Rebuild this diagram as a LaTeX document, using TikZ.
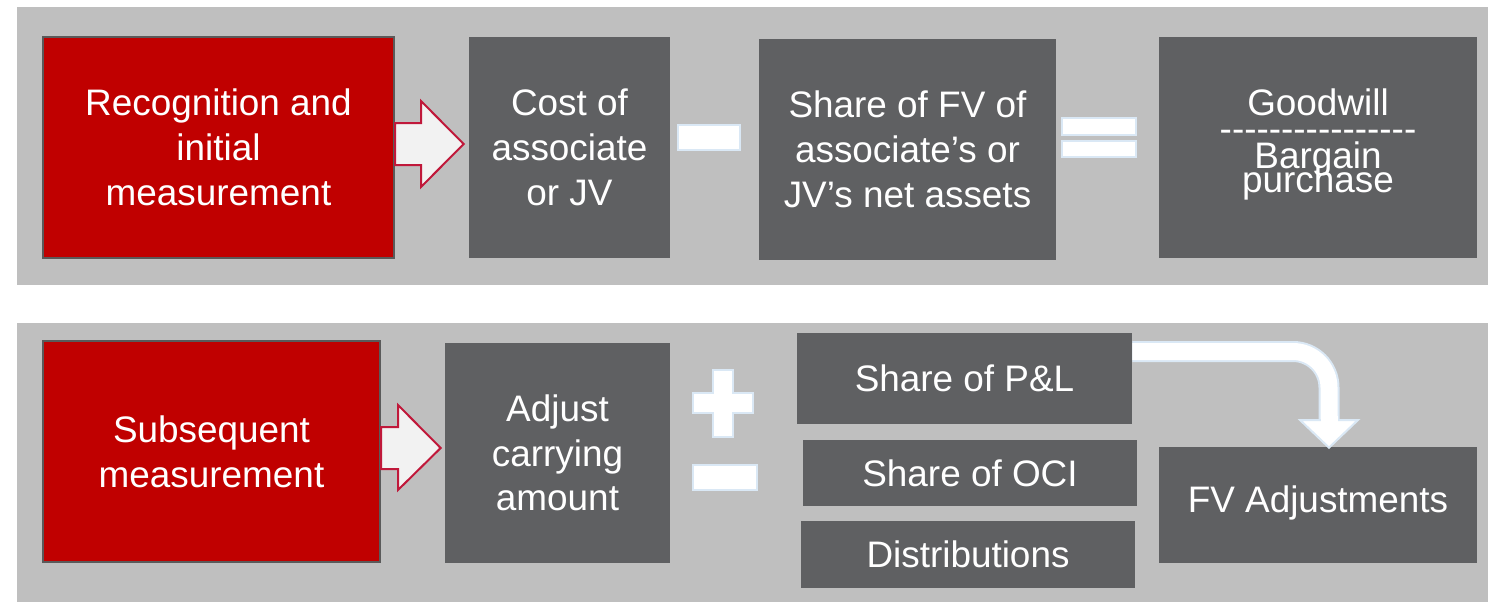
\documentclass[tikz,border=0pt]{standalone}
\usepackage{fontspec}
\setmainfont{Liberation Sans}
\usetikzlibrary{calc}

\definecolor{bandgray}{RGB}{191,191,191}
\definecolor{boxgray}{RGB}{95,96,98}
\definecolor{boxred}{RGB}{192,0,0}
\definecolor{rededge}{RGB}{90,90,90}
\definecolor{arrowfill}{RGB}{242,242,242}
\definecolor{arrowedge}{RGB}{192,24,58}
\definecolor{signedge}{RGB}{218,232,245}

\newcommand{\pxl}{0.02cm}

\begin{document}
\begin{tikzpicture}[x=0.02cm,y=-0.02cm,
    boxtext/.style={text=white,align=center,inner sep=2pt,
      font=\fontsize{21}{25.5}\selectfont},
    graybox/.style 2 args={boxtext,fill=boxgray,
      minimum width=#1*\pxl,minimum height=#2*\pxl},
    redbox/.style 2 args={graybox={#1}{#2},fill=boxred,draw=rededge,line width=0.04cm},
    blockarrow/.style={fill=arrowfill,draw=arrowedge,line width=0.04cm,line join=miter},
    sign/.style={fill=white,draw=signedge,line width=0.04cm}]

  \fill[white] (0,0) rectangle (1488,602);
  \fill[bandgray] (17,7) rectangle (1488,285);    %% initial recognition
  \fill[bandgray] (17,323) rectangle (1488,602);  %% subsequent

  %% top row
  \node[redbox={351}{221}] (rec) at (218.5,147.5) {Recognition and\\initial\\measurement};
  \node[graybox={201}{221}] (cost) at (569.5,147.5) {Cost of\\associate\\or JV};
  \node[graybox={297}{221}] (fvshare) at (907.5,149.5) {Share of FV of\\associate's or\\JV's net assets};
  \node[graybox={318}{221}] (gw) at (1318,147.5) {};
  \node[boxtext,font={\fontsize{21}{14}\selectfont\lineskiplimit=-50pt}] (gwtext)
    at ($(gw.center)+(0,-3)$)
    {Goodwill\\[1pt]\foreach \k in {1,...,16}{\mbox{-}}\\[1pt]Bargain\\purchase};

  \draw[blockarrow] (rec.east |- 0,123) -- (421,123) -- (421,101)
    -- ($(cost.west |- 0,144)+(-5,0)$) -- (421,187) -- (421,165) -- (rec.east |- 0,165) -- cycle;
  \draw[sign] (678,125) rectangle (740,150);
  \draw[sign] (1062,118) rectangle (1136,135);
  \draw[sign] (1062,141) rectangle (1136,157);

  %% bottom row
  \node[redbox={337}{221}] (sub) at (211.5,451.5) {Subsequent\\measurement};
  \node[graybox={225}{220}] (adj) at (557.5,453) {Adjust\\carrying\\amount};
  \node[graybox={335}{91}] (pl) at (964.5,378.5) {Share of P\&L};
  \node[graybox={334}{66}] (oci) at (970,473) {Share of OCI};
  \node[graybox={334}{67}] (dist) at (968,554.5) {Distributions};
  \node[graybox={318}{116}] (fvadj) at (1318,505) {\raisebox{7pt}{FV Adjustments}};

  \draw[blockarrow] (sub.east |- 0,427) -- (398,427) -- (398,405)
    -- ($(adj.west |- 0,448)+(-4,0)$) -- (398,490) -- (398,469) -- (sub.east |- 0,469) -- cycle;
  \draw[sign] (713,370) -- (733,370) -- (733,393) -- (753,393) -- (753,413) -- (733,413)
    -- (733,437) -- (713,437) -- (713,413) -- (693,413) -- (693,393) -- (713,393) -- cycle;
  \draw[sign] (693,465) rectangle (757,490);

  %% bent arrow down to the FV box
  \draw[draw=signedge,line width=0.04cm,double=white,double distance=0.34cm,rounded corners=0.72cm]
    (pl.east |- 0,351.5) -- (1329,351.5) -- (1329,422);
  \draw[sign,line join=miter] (1300,420) -- (1358,420) -- ($(fvadj.north)+(11,1)$) -- cycle;
  \fill[white] (1320.5,416) rectangle (1337.5,424);
\end{tikzpicture}
\end{document}
